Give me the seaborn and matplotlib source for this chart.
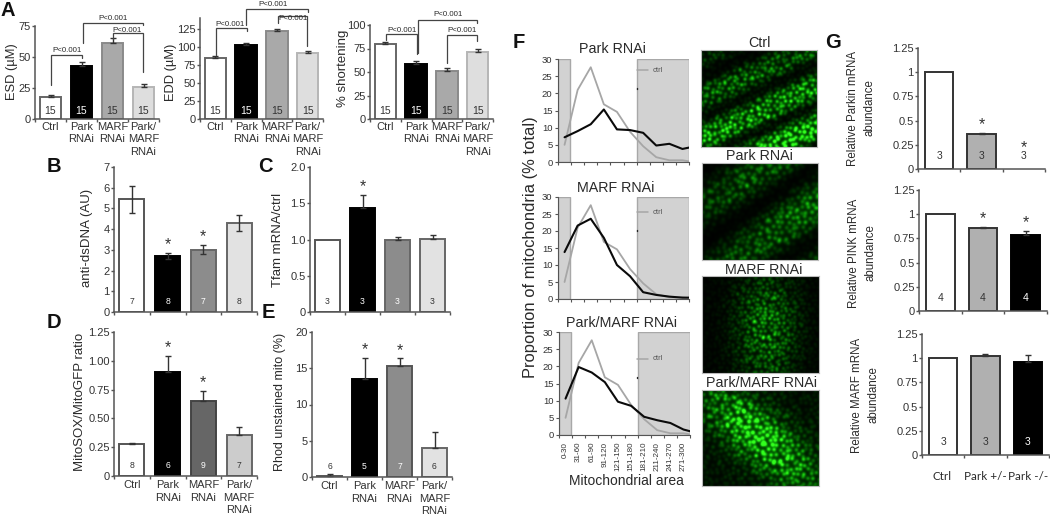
import numpy as np
import matplotlib
matplotlib.use("Agg")
import matplotlib.pyplot as plt
import seaborn as sns

# =====================================================================
# DATA
# =====================================================================
GROUPS = ["Ctrl", "Park\nRNAi", "MARF\nRNAi", "Park/\nMARF\nRNAi"]
G_GROUPS = ["Ctrl", "Park +/-", "Park -/-"]

esd_vals = [18, 43, 61, 26]
esd_err = [1.5, 3, 4, 2.5]
edd_vals = [85, 103, 122, 92]
edd_err = [2, 2.5, 2.5, 2]
short_vals = [80, 59, 51, 71]
short_err = [2, 3, 3, 3]
n_a = [15, 15, 15, 15]

dsdna_vals = [5.45, 2.7, 3.0, 4.3]
dsdna_err = [0.65, 0.15, 0.22, 0.38]
n_b = [7, 8, 7, 8]

tfam_vals = [1.0, 1.44, 0.99, 1.01]
tfam_err = [0, 0.18, 0.04, 0.05]
n_c = [3, 3, 3, 3]

mitosox_vals = [0.275, 0.905, 0.65, 0.355]
mitosox_err = [0.012, 0.135, 0.085, 0.07]
n_d = [8, 6, 9, 7]

rhod_vals = [0.2, 13.5, 15.3, 4.0]
rhod_err = [0.2, 2.9, 1.05, 2.2]
n_e = [6, 5, 7, 6]

parkin_vals = [1.0, 0.36, 0.0]
parkin_err = [0, 0.015, 0]
n_g1 = [3, 3, 3]
pink_vals = [1.0, 0.855, 0.785]
pink_err = [0, 0.01, 0.045]
n_g2 = [4, 4, 4]
marf_vals = [1.0, 1.02, 0.96]
marf_err = [0, 0.025, 0.07]
n_g3 = [3, 3, 3]

AREA_BINS = ["0-30", "31-60", "61-90", "91-120", "121-150", "151-180",
             "181-210", "211-240", "241-270", "271-300"]
# last vertex of each trace stops half a bin past the last label
area_pos = [0, 1, 2, 3, 4, 5, 6, 7, 8, 9, 9.5]
ctrl_line = [5, 21, 27.6, 16.8, 14.6, 8.8, 4.6, 1.4, 0.5, 0.5, 0.2]
park_line = [7.2, 9, 11, 15.3, 9.5, 9.3, 8.5, 4.8, 5.3, 3.8, 4.2]
marf_line = [13.8, 21.6, 23.6, 18, 10, 6.7, 2, 1.2, 0.7, 0.4, 0.4]
both_line = [10.6, 19.8, 18.2, 15.4, 9.7, 8.5, 5.3, 4.3, 3.5, 1.6, 1.1]

# =====================================================================
# STYLE
# =====================================================================
W, H = 1050, 518
sns.set_theme(style="ticks")
plt.rcParams["font.family"] = ["Liberation Sans", "DejaVu Sans"]
plt.rcParams["text.color"] = "#2a2a2a"
plt.rcParams["xtick.color"] = "#333333"
plt.rcParams["ytick.color"] = "#333333"
AXIS = "#555555"

fig = plt.figure(figsize=(W / 100, H / 100), dpi=100, facecolor="white")

# overlay in pixel coordinates for labels and brackets
over = fig.add_axes([0, 0, 1, 1], zorder=10)
over.set_xlim(0, W)
over.set_ylim(H, 0)
over.axis("off")


def px_axes(x0, x1, ytop, ybot):
    ax = fig.add_axes([x0 / W, 1 - ybot / H, (x1 - x0) / W, (ybot - ytop) / H])
    ax.patch.set_alpha(0)
    return ax


def bar_panel(box, ymax, vals, err, counts, ticks, ticklabels, fills, edges,
              names=None, stars=(), both=False, n_size=6.2, n_lift=4, width=0.7,
              name_pad=2):
    ax = px_axes(*box)
    xs = [str(i) for i in range(len(vals))]
    sns.barplot(x=xs, y=vals, hue=xs, palette=fills, legend=False, width=width,
                linewidth=1.4, ax=ax)
    for patch, ec, v in zip(ax.patches, edges, vals):
        patch.set_edgecolor(ec)
        patch.set_visible(v > 0)
    idx = [i for i, e in enumerate(err) if e > 0]
    up = [err[i] for i in idx]
    low = up if both else [0] * len(up)
    ax.errorbar(idx, [vals[i] for i in idx], yerr=[low, up], fmt="none",
                ecolor="#333333", elinewidth=1, capsize=2.2, capthick=1)
    ax.set_xlim(-0.5, len(vals) - 0.5)
    ax.set_ylim(0, ymax)
    ax.set_yticks(ticks)
    ax.set_yticklabels(ticklabels, fontsize=8)
    ax.set_xticks(np.arange(len(vals) + 1) - 0.5)
    ax.set_xticklabels([])
    ax.set_xlabel("")
    ax.set_ylabel("")
    if names:
        ax.set_xticks(range(len(vals)), minor=True)
        ax.set_xticklabels(names, minor=True, fontsize=8, linespacing=1.3)
    ax.tick_params(axis="x", which="minor", length=0, pad=name_pad)
    ax.tick_params(axis="both", which="major", length=2, width=1, color=AXIS, pad=1)
    sns.despine(ax=ax)
    for side in ("left", "bottom"):
        ax.spines[side].set_color(AXIS)
        ax.spines[side].set_linewidth(1.1)
    for i, n in enumerate(counts):
        dark = vals[i] > 0 and fills[i] in ("#000000", "#666666", "#8c8c8c")
        ax.annotate(str(n), (i, 0), xytext=(0, n_lift), textcoords="offset points",
                    ha="center", va="bottom", fontsize=n_size,
                    color="white" if dark else "#333333")
    for i in stars:
        # a star over an empty bar sits above its count
        lift = 0.5 if vals[i] > 0 else 10
        ax.annotate("*", (i, vals[i] + err[i]), xytext=(0, lift),
                    textcoords="offset points", ha="center", va="bottom",
                    fontsize=11.5, color="#333333")
    return ax


def bracket(x0, y0, x1, y1, ytop, label, lx, ly):
    over.plot([x0, x0, x1, x1], [y0, ytop, ytop, y1], color="#444444", lw=0.9,
              solid_joinstyle="miter")
    over.text(lx, ly, label, ha="center", va="center", fontsize=5.7)


def line_panel(box, vals, title_xy, title, legend_y, bins=None):
    ax = px_axes(*box)
    ax.axvspan(-0.5, 0.42, facecolor="#d2d2d2", edgecolor="#a8a8a8", lw=1)
    ax.axvspan(5.52, 9.5, facecolor="#d2d2d2", edgecolor="#a8a8a8", lw=1)
    sns.lineplot(x=area_pos, y=ctrl_line, color="#a6a6a6", lw=1.3, ax=ax,
                 errorbar=None)
    sns.lineplot(x=area_pos, y=vals, color="#0a0a0a", lw=1.5, ax=ax, errorbar=None)
    ax.set_xlim(-0.5, 9.5)
    ax.set_ylim(0, 30)
    ax.set_yticks(range(0, 31, 5))
    ax.tick_params(axis="y", labelsize=6.8, length=2.5, width=0.8, color=AXIS, pad=1.5)
    ax.set_xticks(np.arange(11) - 0.5)
    ax.set_xticklabels([])
    ax.tick_params(axis="x", which="major", length=2.5, width=0.8, color=AXIS)
    if bins:
        ax.set_xticks(range(10), minor=True)
        ax.set_xticklabels(bins, minor=True, rotation=90, fontsize=5.8)
    ax.tick_params(axis="x", which="minor", length=0, pad=5)
    sns.despine(ax=ax)
    ax.spines["left"].set_color(AXIS)
    ax.spines["bottom"].set_color(AXIS)
    ax.spines["left"].set_linewidth(0.8)
    ax.spines["bottom"].set_linewidth(0.8)
    over.text(*title_xy, title, ha="center", va="center", fontsize=10.3)
    over.plot([637, 648], [legend_y, legend_y], color="#a6a6a6", lw=1.1)
    over.text(653, legend_y, "ctrl", ha="left", va="center", fontsize=5.5, color="#555555")
    over.plot([637, 637], [legend_y + 18, legend_y + 19], color="#222222", lw=1)
    return ax


def micrograph(box, env_fn, spacing, radius, gain, glow):
    """Stand-in for the fluorescence photo: a lattice of soft green spots."""
    x0, x1, ytop, ybot = box
    ss = 3
    w, h = (x1 - x0) * ss, (ybot - ytop) * ss
    img = np.zeros((h, w))
    yy, xx = np.mgrid[0:h, 0:w]
    step = spacing * ss
    r = radius * ss
    for j in range(int(h / (step * 0.86)) + 2):
        for i in range(int(w / step) + 2):
            a = np.sin(i * 12.9898 + j * 78.233) * 43758.5453
            b = np.sin(i * 39.346 + j * 11.135) * 24634.6345
            c = np.sin(i * 73.156 + j * 52.235) * 12345.6789
            a, b, c = a - np.floor(a), b - np.floor(b), c - np.floor(c)
            cx = (i + 0.5 * (j % 2) + (a - 0.5) * 0.6) * step
            cy = (j * 0.86 + (b - 0.5) * 0.6) * step
            x_l, x_h = max(int(cx - 3 * r), 0), min(int(cx + 3 * r), w)
            y_l, y_h = max(int(cy - 3 * r), 0), min(int(cy + 3 * r), h)
            if x_l >= x_h or y_l >= y_h:
                continue
            amp = env_fn(cx / w, cy / h) * (0.5 + 0.7 * c)
            d2 = (xx[y_l:y_h, x_l:x_h] - cx) ** 2 + (yy[y_l:y_h, x_l:x_h] - cy) ** 2
            img[y_l:y_h, x_l:x_h] += amp * np.exp(-d2 / (2 * (r * 0.6) ** 2))
    img = img * gain + glow * env_fn(xx / w, yy / h)
    img = np.clip(img, 0, 1)
    rgb = np.dstack([img ** 2.5 * 0.2, img, img ** 2.5 * 0.12])
    ax = px_axes(x0, x1, ytop, ybot)
    ax.imshow(rgb, aspect="auto", interpolation="bilinear")
    ax.set_xticks([])
    ax.set_yticks([])
    for s in ax.spines.values():
        s.set_color("#bbbbbb")
        s.set_linewidth(0.8)


def env_ctrl(x, y):
    u = y + 0.55 * x
    band = 0.5 + 0.5 * np.sin(2 * np.pi * u / 0.42 + 0.6)
    return np.clip(band * 1.1 + 0.1, 0.08, 1) * (0.15 + 0.75 * y + 0.3 * x)


def env_park(x, y):
    u = y + 0.8 * x
    band = 0.5 + 0.5 * np.sin(2 * np.pi * u / 0.75 - 2.2)
    return np.clip(band * 1.1 + 0.05, 0.06, 1) * (0.25 + 0.3 * x)


def env_marf(x, y):
    return 0.6 * np.exp(-((x - 0.55) ** 2) / 0.06 - ((y - 0.55) ** 2) / 0.30) + 0.03


def env_both(x, y):
    u = (x - 0.5) * 0.75 - (y - 0.5) * 0.66
    v = (x - 0.5) * 0.66 + (y - 0.5) * 0.75
    return 0.9 * np.exp(-(u ** 2) / 0.05 - (v ** 2) / 0.42) + 0.1


# =====================================================================
# PANEL A
# =====================================================================
FILL_A = ["#ffffff", "#000000", "#a9a9a9", "#dedede"]
EDGE_A = ["#666666", "#000000", "#8a8a8a", "#b5b5b5"]

bar_panel((35, 159, 26, 119), 75, esd_vals, esd_err, n_a, [0, 25, 50, 75],
          ["0", "25", "50", "75"], FILL_A, EDGE_A, GROUPS, n_size=7.5, n_lift=2)
bar_panel((200, 323, 18, 119), 140, edd_vals, edd_err, n_a, range(0, 126, 25),
          ["0", "25", "50", "75", "100", "125"], FILL_A, EDGE_A, GROUPS, n_size=7.5, n_lift=2)
bar_panel((370, 493, 25, 119), 100, short_vals, short_err, n_a, [0, 25, 50, 75, 100],
          ["0", "25", "50", "75", "100"], FILL_A, EDGE_A, GROUPS, n_size=7.5, n_lift=2)

bracket(51, 85, 82, 58, 55, "P<0.001", 67, 51)
bracket(83, 43, 143, 25, 23, "P<0.001", 113, 19)
bracket(113, 39, 143, 72, 33, "P<0.001", 127, 30)

bracket(216, 55, 247, 31, 28, "P<0.001", 230, 24)
bracket(246, 25, 308, 12, 9, "P<0.001", 273, 5)
bracket(278, 23, 307, 46, 16, "P<0.001", 293, 18)

bracket(386, 40, 417, 54, 34, "P<0.001", 402, 30)
bracket(418, 53, 477, 23, 20, "P<0.001", 448, 15)
bracket(447, 63, 477, 41, 35, "P<0.001", 462, 31)

# =====================================================================
# PANELS B-E
# =====================================================================
bar_panel((114, 257, 167, 312), 7, dsdna_vals, dsdna_err, n_b, range(8),
          [str(v) for v in range(8)], ["#ffffff", "#000000", "#8c8c8c", "#e2e2e2"],
          ["#555555", "#000000", "#666666", "#666666"], stars=(1, 2), both=True)
bar_panel((310, 450, 167, 312), 2.0, tfam_vals, tfam_err, n_c, [0, 0.5, 1, 1.5, 2],
          ["0", "0.5", "1.0", "1.5", "2.0"], ["#ffffff", "#000000", "#8c8c8c", "#e2e2e2"],
          ["#555555", "#000000", "#666666", "#666666"], stars=(1,))
bar_panel((114, 257, 332, 476), 1.25, mitosox_vals, mitosox_err, n_d,
          [0, 0.25, 0.5, 0.75, 1, 1.25], ["0", "0.25", "0.50", "0.75", "1.00", "1.25"],
          ["#ffffff", "#000000", "#666666", "#cccccc"],
          ["#555555", "#000000", "#444444", "#666666"], GROUPS, stars=(1, 2), name_pad=3)
bar_panel((312, 452, 332, 477), 20, rhod_vals, rhod_err, n_e, range(0, 21, 5),
          ["0", "5", "10", "15", "20"], ["#ffffff", "#000000", "#8c8c8c", "#e2e2e2"],
          ["#555555", "#000000", "#555555", "#666666"], GROUPS, stars=(1, 2), name_pad=3)

# =====================================================================
# PANEL F
# =====================================================================
line_panel((558, 689, 59, 162), park_line, (612, 49), "Park RNAi", 70)
line_panel((558, 689, 197, 299), marf_line, (616, 188), "MARF RNAi", 212)
line_panel((559, 690, 332, 435), both_line, (621, 323), "Park/MARF RNAi", 359, bins=AREA_BINS)

over.text(530, 247, "Proportion of mitochondria (% total)", rotation=90,
          ha="center", va="center", fontsize=11.9)
over.text(626, 481, "Mitochondrial area", ha="center", va="center", fontsize=10)

micrograph((701, 817, 50, 147), env_ctrl, 5.0, 2.2, 1.1, 0.15)
micrograph((702, 818, 163, 260), env_park, 5.8, 2.6, 1.0, 0.22)
micrograph((702, 819, 276, 373), env_marf, 4.6, 2.1, 1.0, 0.12)
micrograph((702, 819, 390, 486), env_both, 5.4, 2.4, 1.1, 0.22)
over.text(759, 43, "Ctrl", ha="center", va="center", fontsize=10.3)
over.text(759, 156, "Park RNAi", ha="center", va="center", fontsize=10.3)
over.text(764, 270, "MARF RNAi", ha="center", va="center", fontsize=10.3)
over.text(761, 383, "Park/MARF RNAi", ha="center", va="center", fontsize=10.3)

# =====================================================================
# PANEL G
# =====================================================================
FILL_G = ["#ffffff", "#b0b0b0", "#000000"]
EDGE_G = ["#333333", "#333333", "#000000"]
G_TICKS = [0, 0.25, 0.5, 0.75, 1, 1.25]
G_LABELS = ["0", "0.25", "0.5", "0.75", "1", "1.25"]

bar_panel((918, 1045, 48, 169), 1.25, parkin_vals, parkin_err, n_g1, G_TICKS,
          G_LABELS, FILL_G, EDGE_G, stars=(1, 2), n_size=7.5, n_lift=6, width=0.67)
bar_panel((919, 1047, 190, 311), 1.25, pink_vals, pink_err, n_g2, G_TICKS, G_LABELS,
          FILL_G, EDGE_G, stars=(1, 2), n_size=7.5, n_lift=6, width=0.67)
bar_panel((922, 1049, 334, 455), 1.25, marf_vals, marf_err, n_g3, G_TICKS, G_LABELS,
          FILL_G, EDGE_G, n_size=7.5, n_lift=6, width=0.67)

for cx, name in zip([942, 985, 1028], G_GROUPS):
    over.text(cx, 476, name, ha="center", va="center", fontsize=8.4, family="Lato")

# =====================================================================
# AXIS TITLES AND PANEL LETTERS
# =====================================================================
Y_TITLES = [
    (12, 72, "ESD (µM)", 9.3, 1.15),
    (171, 72, "EDD (µM)", 9.3, 1.15),
    (343, 68, "% shortening", 9.5, 1.15),
    (87, 238, "anti-dsDNA (AU)", 9.5, 1.15),
    (278, 240, "Tfam mRNA/ctrl", 9.5, 1.15),
    (80, 402, "MitoSOX/MitoGFP ratio", 9.5, 1.15),
    (280, 402, "Rhod unstained mito (%)", 9, 1.15),
    (861, 108, "Relative Parkin mRNA\nabundance", 8.3, 1.45),
    (862, 253, "Relative PINK mRNA\nabundance", 8.3, 1.45),
    (865, 395, "Relative MARF mRNA\nabundance", 8.3, 1.45),
]
for x, y, txt, size, spacing in Y_TITLES:
    over.text(x, y, txt, rotation=90, ha="center", va="center", fontsize=size,
              linespacing=spacing, multialignment="center")

LETTERS = [("A", 8, 10), ("B", 54, 167), ("C", 265, 167), ("D", 54, 322),
           ("E", 268, 312), ("F", 519, 43), ("G", 833, 43)]
for letter, x, y in LETTERS:
    over.text(x, y, letter, ha="center", va="center", fontsize=14.5,
              fontweight="bold", color="#111111")

fig.savefig("out.png", dpi=100, facecolor="white")
